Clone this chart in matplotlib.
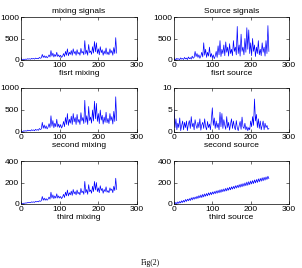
import numpy as np
import matplotlib
matplotlib.use("Agg")
import matplotlib.pyplot as plt

x = np.arange(100) * 2.5

fisrt_mixing = [5, 10, 8, 20, 12, 22, 15, 30, 20, 28,
 18, 38, 25, 35, 20, 45, 30, 40, 28, 60,
 40, 50, 130, 60, 100, 55, 90, 50, 75, 120,
 70, 220, 90, 160, 70, 130, 85, 180, 80, 120,
 70, 110, 60, 90, 150, 80, 200, 110, 260, 100,
 180, 130, 220, 110, 260, 150, 200, 110, 240, 140,
 180, 110, 270, 160, 200, 120, 450, 140, 230, 110,
 360, 170, 210, 130, 310, 160, 430, 190, 400, 150,
 260, 120, 310, 170, 240, 110, 210, 140, 280, 130,
 190, 120, 260, 160, 220, 110, 290, 150, 520, 160]

second_mixing = [8, 15, 10, 30, 18, 30, 20, 42, 28, 38,
 25, 52, 35, 48, 28, 60, 40, 55, 38, 80,
 55, 70, 220, 85, 160, 80, 140, 70, 110, 190,
 100, 370, 130, 260, 95, 200, 120, 290, 110, 180,
 100, 170, 90, 140, 240, 120, 330, 170, 420, 150,
 290, 200, 360, 170, 420, 230, 330, 170, 400, 220,
 290, 170, 440, 250, 330, 190, 720, 220, 370, 170,
 580, 260, 340, 200, 500, 250, 700, 300, 650, 240,
 420, 190, 500, 270, 380, 180, 340, 220, 450, 210,
 310, 190, 420, 260, 350, 180, 470, 240, 800, 260]

third_mixing = [2, 5, 4, 8, 7, 10, 9, 14, 12, 15,
 13, 20, 16, 20, 15, 24, 20, 24, 20, 30,
 25, 30, 70, 35, 55, 35, 50, 35, 45, 65,
 45, 110, 55, 85, 50, 75, 55, 95, 55, 75,
 55, 70, 50, 65, 90, 60, 110, 75, 130, 75,
 105, 85, 120, 80, 135, 95, 115, 85, 130, 95,
 110, 85, 145, 105, 120, 90, 210, 105, 135, 90,
 180, 115, 130, 100, 165, 115, 210, 130, 200, 115,
 150, 105, 170, 125, 145, 100, 135, 115, 160, 110,
 125, 105, 150, 125, 140, 105, 165, 125, 240, 135]

fisrt_source = [10, 25, 5, 40, 15, 30, 8, 50, 20, 35,
 12, 60, 25, 45, 10, 70, 30, 55, 20, 90,
 40, 60, 200, 80, 150, 60, 120, 40, 90, 180,
 70, 400, 110, 250, 60, 180, 90, 300, 70, 150,
 50, 120, 30, 90, 200, 60, 330, 120, 450, 80,
 250, 150, 350, 100, 420, 180, 300, 90, 380, 150,
 250, 100, 450, 200, 300, 120, 780, 150, 350, 90,
 600, 200, 300, 120, 500, 180, 750, 250, 700, 150,
 400, 100, 500, 200, 350, 80, 300, 150, 450, 120,
 250, 100, 400, 180, 300, 90, 450, 150, 800, 200]

second_source = [5, 1, 3, 0.5, 2, 1, 3.2, 0.3, 1.5, 2.5,
 0.5, 2.2, 1, 2.5, 0.3, 1.8, 2.6, 0.8, 3.5, 1.2,
 2, 0.5, 2.8, 1.5, 0.8, 2.2, 1, 3, 0.4, 1.6,
 2.2, 0.8, 3, 1.2, 0.5, 2.4, 1, 1.8, 0.5, 2.8,
 5.5, 1.5, 3.2, 0.8, 2.5, 1, 2, 0.5, 4.5, 1.2,
 4.2, 0.8, 2.8, 1.5, 0.6, 3.5, 1, 2.2, 0.4, 1.8,
 3, 0.8, 2.5, 1.2, 0.5, 2.6, 1, 0.3, 1.5, 2.4,
 0.6, 3.4, 1.2, 0.8, 2, 0.5, 1.2, 0.3, 1, 0.5,
 2.5, 1.2, 3.5, 1.5, 7.5, 2.5, 4, 1, 3, 0.8,
 2.5, 0.5, 1.5, 2.5, 0.5, 2, 1, 1.5, 0.6, 0.8]

third_source = [8, 0, 15, 2, 20, 6, 24, 10, 30, 14,
 34, 18, 42, 24, 45, 30, 50, 32, 58, 38,
 62, 44, 65, 48, 72, 52, 78, 58, 84, 60,
 90, 66, 94, 72, 98, 76, 104, 82, 108, 86,
 112, 92, 116, 96, 122, 100, 126, 104, 132, 108,
 136, 114, 140, 118, 146, 122, 150, 128, 156, 132,
 160, 138, 164, 142, 170, 148, 174, 152, 180, 156,
 186, 160, 190, 166, 196, 170, 204, 174, 208, 180,
 214, 186, 218, 190, 224, 196, 228, 200, 234, 206,
 238, 212, 244, 216, 248, 222, 252, 228, 258, 236]

plt.rcParams['font.family'] = ['Liberation Sans', 'DejaVu Sans']
plt.rcParams['font.size'] = 6

W, H = 302, 268
fig = plt.figure(figsize=(W / 100, H / 100), dpi=100)

def rect(l, t, r, b):
    return [l / W, 1 - b / H, (r - l) / W, (b - t) / H]

panels = [
    (rect(21, 17, 137, 60), fisrt_mixing, (0, 1000), [0, 500, 1000], 'fisrt mixing', 'mixing signals'),
    (rect(174, 17, 289, 60), fisrt_source, (0, 1000), [0, 500, 1000], 'fisrt source', 'Source signals'),
    (rect(21, 88, 137, 132), second_mixing, (0, 1000), [0, 500, 1000], 'second mixing', None),
    (rect(174, 88, 289, 132), second_source, (0, 10), [0, 5, 10], 'second source', None),
    (rect(21, 161, 137, 204), third_mixing, (0, 400), [0, 200, 400], 'third mixing', None),
    (rect(174, 161, 289, 204), third_source, (0, 400), [0, 200, 400], 'third source', None),
]

for pos, y, ylim, yticks, xlabel, title in panels:
    ax = fig.add_axes(pos)
    ax.plot(x, y, color='#0000ff', lw=0.5)
    ax.set_xlim(0, 300)
    ax.set_ylim(*ylim)
    ax.set_xticks([0, 100, 200, 300])
    ax.set_yticks(yticks)
    ax.tick_params(direction='in', length=2, width=0.4, pad=1.5, labelsize=6,
                   top=True, right=True)
    for s in ax.spines.values():
        s.set_linewidth(0.5)
    ax.set_xlabel(xlabel, fontsize=6, labelpad=1)
    if title:
        ax.set_title(title, fontsize=6, pad=3)

fig.text(150 / W, 1 - 263 / H, 'Fig(2)', family='Liberation Serif', fontsize=5.5,
         ha='center', va='center')

fig.savefig('out.png', dpi=100)
